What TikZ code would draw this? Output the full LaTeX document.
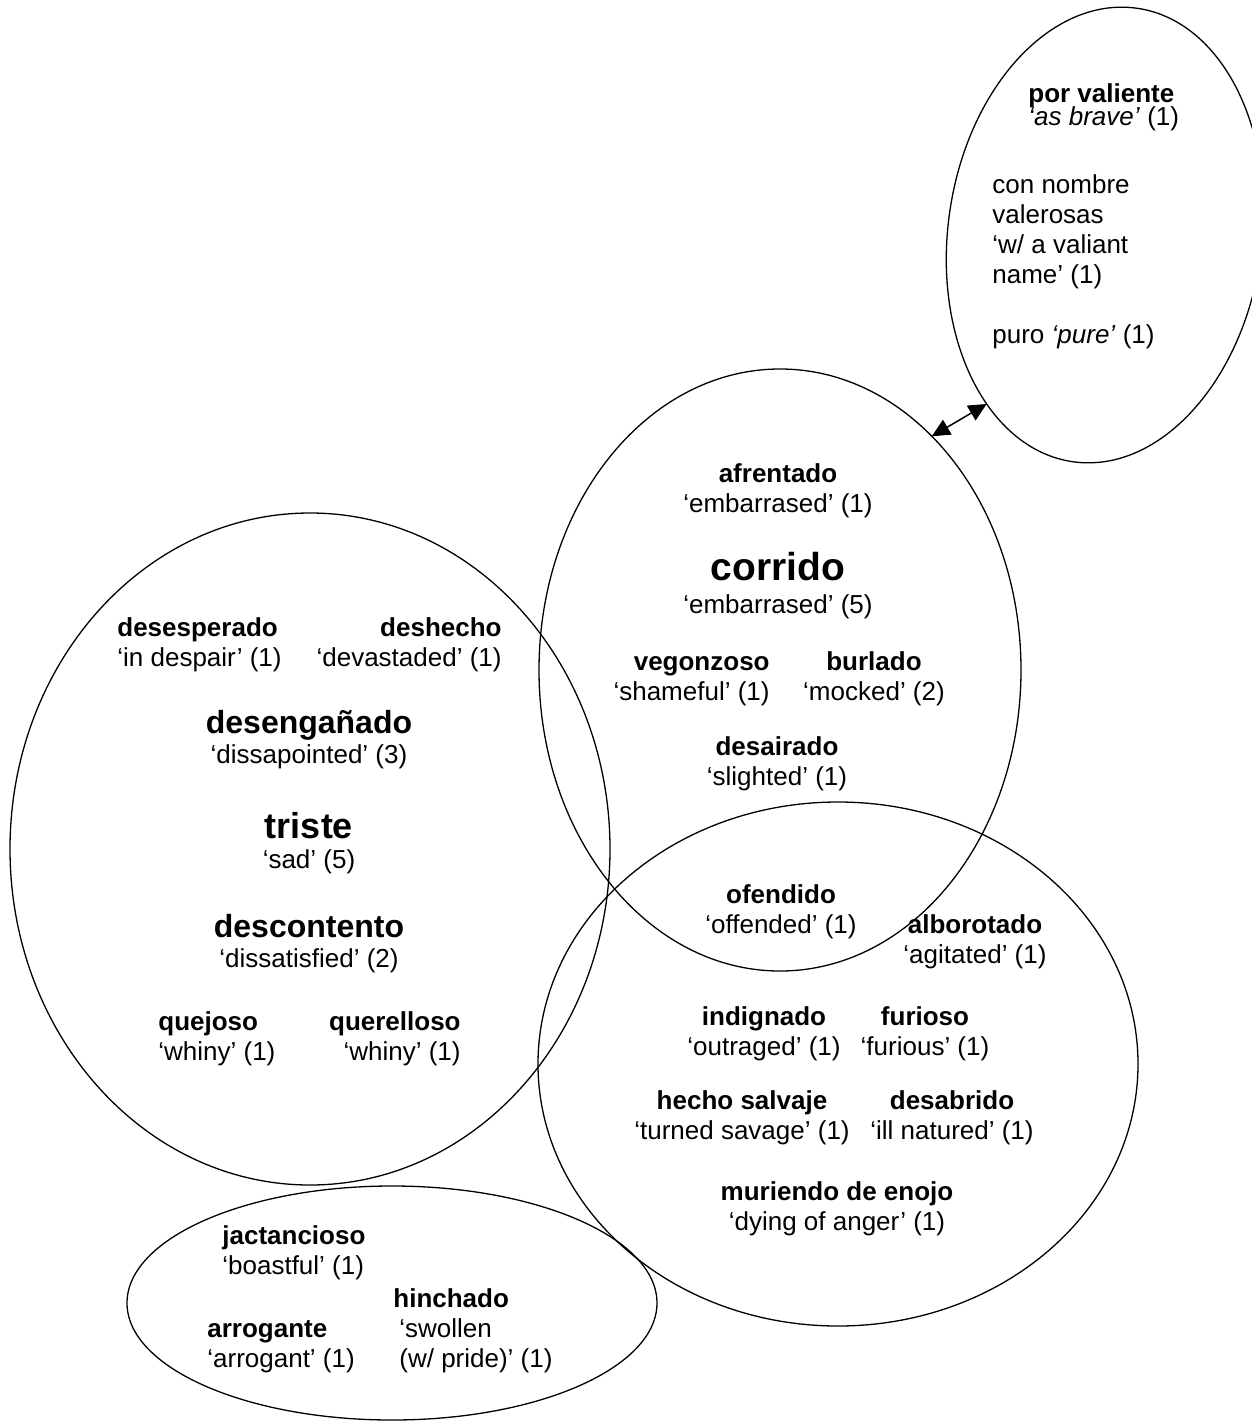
\documentclass[tikz,border=0pt]{standalone}
\usepackage{fontspec}
\setmainfont{Liberation Sans}
\usetikzlibrary{arrows.meta,shapes.geometric}

\begin{document}
\begin{tikzpicture}[
  x=0.5pt, y=-0.5pt,
  blob/.style={draw, ellipse, inner sep=0pt, outer sep=0pt, line width=0.65pt},
  term/.style={align=center, anchor=base, inner sep=0pt, font=\fontsize{13}{15}\selectfont},
  lterm/.style={term, align=left, anchor=base west},
  rterm/.style={term, align=right, anchor=base east},
  link/.style={{Triangle[length=9pt,width=8.5pt]}-{Triangle[length=9pt,width=8.5pt]}, line width=0.75pt},
]
  \useasboundingbox (0,0) rectangle (1252,1425);

  % groups
  \node[blob, minimum width=157pt, minimum height=229pt, rotate=-8] (brave) at (1105,235) {};
  \node[blob, minimum width=241pt, minimum height=301pt] (shame) at (780,670) {};
  \node[blob, minimum width=300pt, minimum height=336pt] (sad) at (310,849) {};
  \node[blob, minimum width=300pt, minimum height=262pt] (anger) at (838,1064) {};
  \node[blob, minimum width=265pt, minimum height=117pt] (pride) at (392,1303) {};
  \draw[link] (shame.57) -- (brave.243);

  % top right
  \node[lterm] (valiente) at (1028,125) {\textbf{por valiente}\\[-3.5pt]\textit{‘as brave’} (1)};
  \node[lterm] (nombre) at (992,343) {con nombre\\valerosas\\‘w/ a valiant\\name’ (1)\\[15pt]puro \textit{‘pure’} (1)};

  % embarrassment
  \node[term] (afrentado) at (778,512) {\textbf{afrentado}\\‘embarrased’ (1)};
  \node[term] (corrido) at (778,613) {{\fontsize{19.5}{15}\selectfont\bfseries corrido}\\[1.5pt]‘embarrased’ (5)};
  \node[rterm] (vegonzoso) at (770,700) {\textbf{vegonzoso}\\‘shameful’ (1)};
  \node[term] (burlado) at (874,700) {\textbf{burlado}\\‘mocked’ (2)};
  \node[term] (desairado) at (777,785) {\textbf{desairado}\\‘slighted’ (1)};
  \node[term] (ofendido) at (781,933) {\textbf{ofendido}\\‘offended’ (1)};

  % anger
  \node[term] (alborotado) at (975,963) {\textbf{alborotado}\\‘agitated’ (1)};
  \node[term] (indignado) at (764,1055) {\textbf{indignado}\\‘outraged’ (1)};
  \node[term] (furioso) at (925,1055) {\textbf{furioso}\\‘furious’ (1)};
  \node[term] (hecho) at (742,1139) {\textbf{hecho salvaje}\\‘turned savage’ (1)};
  \node[term] (desabrido) at (952,1139) {\textbf{desabrido}\\‘ill natured’ (1)};
  \node[term] (muriendo) at (837,1230) {\textbf{muriendo de enojo}\\‘dying of anger’ (1)};

  % sadness
  \node[lterm] (desesperado) at (117,666) {\textbf{desesperado}\\‘in despair’ (1)};
  \node[rterm] (deshecho) at (502,666) {\textbf{deshecho}\\‘devastaded’ (1)};
  \node[term] (desenganado) at (309,763) {{\fontsize{16}{15}\selectfont\bfseries desengañado}\\‘dissapointed’ (3)};
  \node[term] (triste) at (309,868) {{\fontsize{18}{15}\selectfont\bfseries triste}\\‘sad’ (5)};
  \node[term] (descontento) at (309,967) {{\fontsize{16}{15}\selectfont\bfseries descontento}\\‘dissatisfied’ (2)};
  \node[lterm] (quejoso) at (158,1060) {\textbf{quejoso}\\‘whiny’ (1)};
  \node[rterm] (querelloso) at (461,1060) {\textbf{querelloso}\\‘whiny’ (1)};

  % pride
  \node[lterm] (jactancioso) at (222,1274) {\textbf{jactancioso}\\‘boastful’ (1)};
  \node[lterm] (hinchado) at (393,1367) {\textbf{hinchado}\\\hspace*{3pt}‘swollen\\\hspace*{3pt}(w/ pride)’ (1)};
  \node[lterm] (arrogante) at (207,1367) {\textbf{arrogante}\\‘arrogant’ (1)};
\end{tikzpicture}
\end{document}
